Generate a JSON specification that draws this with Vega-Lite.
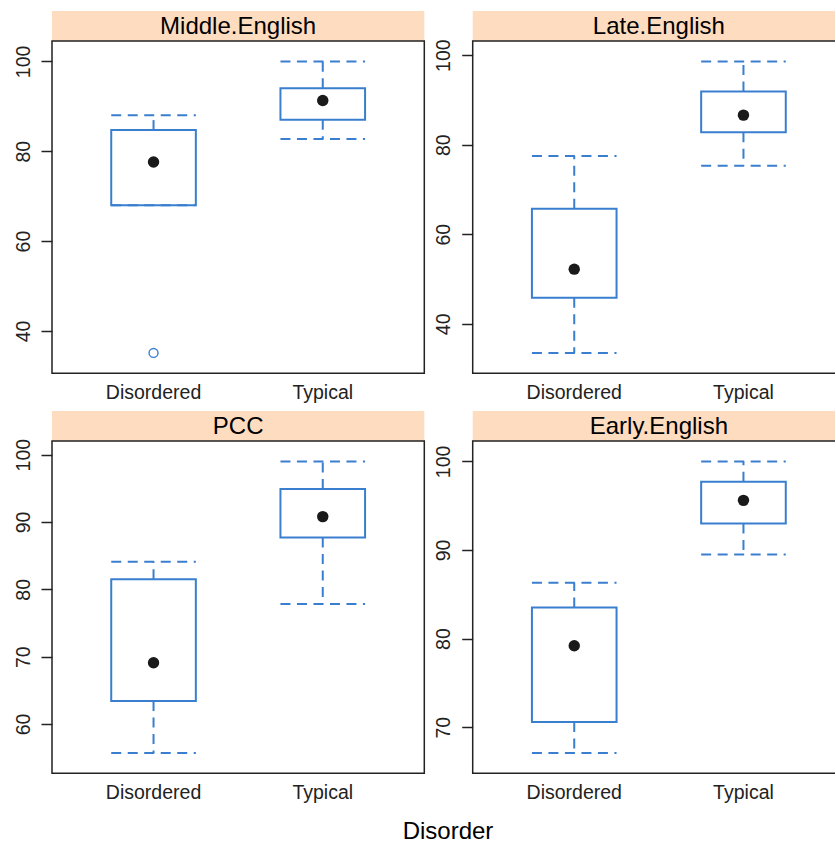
{
  "$schema": "https://vega.github.io/schema/vega-lite/v6.json",
  "background": "white",
  "padding": {"left": 12, "top": 11, "right": -11, "bottom": 2},
  "datasets": {
    "panels": [
      {"panel": "Middle.English"},
      {"panel": "Late.English"},
      {"panel": "PCC"},
      {"panel": "Early.English"}
    ],
    "boxes": [
      {"panel": "Middle.English", "Disorder": "Disordered", "lower": 68, "q1": 68, "median": 77.6, "q3": 84.7, "upper": 88},
      {"panel": "Middle.English", "Disorder": "Typical", "lower": 82.7, "q1": 87, "median": 91.3, "q3": 94, "upper": 100},
      {"panel": "Late.English", "Disorder": "Disordered", "lower": 33.5, "q1": 45.8, "median": 52.2, "q3": 65.7, "upper": 77.5},
      {"panel": "Late.English", "Disorder": "Typical", "lower": 75.3, "q1": 82.8, "median": 86.6, "q3": 91.9, "upper": 98.6},
      {"panel": "PCC", "Disorder": "Disordered", "lower": 55.7, "q1": 63.4, "median": 69.1, "q3": 81.5, "upper": 84.1},
      {"panel": "PCC", "Disorder": "Typical", "lower": 77.8, "q1": 87.7, "median": 90.8, "q3": 94.9, "upper": 99},
      {"panel": "Early.English", "Disorder": "Disordered", "lower": 67.1, "q1": 70.6, "median": 79.2, "q3": 83.5, "upper": 86.3},
      {"panel": "Early.English", "Disorder": "Typical", "lower": 89.5, "q1": 93, "median": 95.6, "q3": 97.7, "upper": 100}
    ],
    "outliers": [
      {"panel": "Middle.English", "Disorder": "Disordered", "value": 35.1}
    ]
  },
  "title": {
    "text": "Disorder",
    "orient": "bottom",
    "anchor": "middle",
    "font": "Liberation Sans",
    "fontSize": 24,
    "fontWeight": "normal",
    "color": "#000000",
    "offset": 17,
    "dx": 19
  },
  "spacing": 8,
  "vconcat": [
    {
      "spacing": 6.7,
      "hconcat": [
        {
          "bounds": "flush",
          "spacing": 0,
          "vconcat": [
            {
              "width": 372.3, "height": 30,
              "data": {"name": "panels"},
              "transform": [{"filter": "datum.panel === 'Middle.English'"}],
              "view": {"fill": "#fedcc0"},
              "mark": {"type": "text", "font": "Liberation Sans", "fontSize": 24, "color": "#000000", "baseline": "middle", "dy": 1},
              "encoding": {"text": {"field": "panel", "type": "nominal"}}
            },
            {
              "width": 372.3, "height": 332.3,
              "data": {"name": "boxes"},
              "transform": [{"filter": "datum.panel === 'Middle.English'"}],
              "encoding": {
                "x": {"field": "Disorder", "type": "nominal", "sort": ["Disordered", "Typical"], "title": null,
                      "scale": {"type": "band", "paddingInner": 0.5, "paddingOuter": 0.35}}
              },
              "layer": [
                {"mark": {"type": "rule", "color": "#3a7fcf", "strokeWidth": 2, "strokeDash": [10, 6.5]},
                 "encoding": {"y": {"field": "q3", "type": "quantitative", "title": null,
                                    "scale": {"domain": [30.56, 104.54], "nice": false, "zero": false},
                                    "axis": {"values": [40, 60, 80, 100]}},
                              "y2": {"field": "upper"}}},
                {"mark": {"type": "rule", "color": "#3a7fcf", "strokeWidth": 2, "strokeDash": [10, 6.5]},
                 "encoding": {"y": {"field": "q1", "type": "quantitative", "title": null}, "y2": {"field": "lower"}}},
                {"mark": {"type": "rule", "color": "#3a7fcf", "strokeWidth": 2, "strokeDash": [10, 6.5]},
                 "encoding": {"x": {"field": "Disorder", "type": "nominal", "bandPosition": 0},
                              "x2": {"field": "Disorder", "bandPosition": 1},
                              "y": {"field": "upper", "type": "quantitative", "title": null}}},
                {"mark": {"type": "rule", "color": "#3a7fcf", "strokeWidth": 2, "strokeDash": [10, 6.5]},
                 "encoding": {"x": {"field": "Disorder", "type": "nominal", "bandPosition": 0},
                              "x2": {"field": "Disorder", "bandPosition": 1},
                              "y": {"field": "lower", "type": "quantitative", "title": null}}},
                {"mark": {"type": "bar", "fill": "white", "fillOpacity": 0, "stroke": "#3a7fcf", "strokeWidth": 2},
                 "encoding": {"y": {"field": "q1", "type": "quantitative", "title": null}, "y2": {"field": "q3"}}},
                {"mark": {"type": "point", "filled": true, "color": "#1a1a1a", "size": 130, "opacity": 1},
                 "encoding": {"y": {"field": "median", "type": "quantitative", "title": null}}},
                {"data": {"name": "outliers"},
                 "transform": [{"filter": "datum.panel === 'Middle.English'"}],
                 "mark": {"type": "point", "filled": false, "color": "#3a7fcf", "size": 80, "strokeWidth": 1.4, "opacity": 1},
                 "encoding": {"y": {"field": "value", "type": "quantitative", "title": null}}}
              ]
            }
          ]
        },
        {
          "bounds": "flush",
          "spacing": 0,
          "vconcat": [
            {
              "width": 372.3, "height": 30,
              "data": {"name": "panels"},
              "transform": [{"filter": "datum.panel === 'Late.English'"}],
              "view": {"fill": "#fedcc0"},
              "mark": {"type": "text", "font": "Liberation Sans", "fontSize": 24, "color": "#000000", "baseline": "middle", "dy": 1},
              "encoding": {"text": {"field": "panel", "type": "nominal"}}
            },
            {
              "width": 372.3, "height": 332.3,
              "data": {"name": "boxes"},
              "transform": [{"filter": "datum.panel === 'Late.English'"}],
              "encoding": {
                "x": {"field": "Disorder", "type": "nominal", "sort": ["Disordered", "Typical"], "title": null,
                      "scale": {"type": "band", "paddingInner": 0.5, "paddingOuter": 0.35}}
              },
              "layer": [
                {"mark": {"type": "rule", "color": "#3a7fcf", "strokeWidth": 2, "strokeDash": [10, 6.5]},
                 "encoding": {"y": {"field": "q3", "type": "quantitative", "title": null,
                                    "scale": {"domain": [28.94, 103.16], "nice": false, "zero": false},
                                    "axis": {"values": [40, 60, 80, 100]}},
                              "y2": {"field": "upper"}}},
                {"mark": {"type": "rule", "color": "#3a7fcf", "strokeWidth": 2, "strokeDash": [10, 6.5]},
                 "encoding": {"y": {"field": "q1", "type": "quantitative", "title": null}, "y2": {"field": "lower"}}},
                {"mark": {"type": "rule", "color": "#3a7fcf", "strokeWidth": 2, "strokeDash": [10, 6.5]},
                 "encoding": {"x": {"field": "Disorder", "type": "nominal", "bandPosition": 0},
                              "x2": {"field": "Disorder", "bandPosition": 1},
                              "y": {"field": "upper", "type": "quantitative", "title": null}}},
                {"mark": {"type": "rule", "color": "#3a7fcf", "strokeWidth": 2, "strokeDash": [10, 6.5]},
                 "encoding": {"x": {"field": "Disorder", "type": "nominal", "bandPosition": 0},
                              "x2": {"field": "Disorder", "bandPosition": 1},
                              "y": {"field": "lower", "type": "quantitative", "title": null}}},
                {"mark": {"type": "bar", "fill": "white", "fillOpacity": 0, "stroke": "#3a7fcf", "strokeWidth": 2},
                 "encoding": {"y": {"field": "q1", "type": "quantitative", "title": null}, "y2": {"field": "q3"}}},
                {"mark": {"type": "point", "filled": true, "color": "#1a1a1a", "size": 130, "opacity": 1},
                 "encoding": {"y": {"field": "median", "type": "quantitative", "title": null}}}
              ]
            }
          ]
        }
      ]
    },
    {
      "spacing": 6.7,
      "hconcat": [
        {
          "bounds": "flush",
          "spacing": 0,
          "vconcat": [
            {
              "width": 372.3, "height": 30,
              "data": {"name": "panels"},
              "transform": [{"filter": "datum.panel === 'PCC'"}],
              "view": {"fill": "#fedcc0"},
              "mark": {"type": "text", "font": "Liberation Sans", "fontSize": 24, "color": "#000000", "baseline": "middle", "dy": 1},
              "encoding": {"text": {"field": "panel", "type": "nominal"}}
            },
            {
              "width": 372.3, "height": 332.3,
              "data": {"name": "boxes"},
              "transform": [{"filter": "datum.panel === 'PCC'"}],
              "encoding": {
                "x": {"field": "Disorder", "type": "nominal", "sort": ["Disordered", "Typical"], "title": null,
                      "scale": {"type": "band", "paddingInner": 0.5, "paddingOuter": 0.35}}
              },
              "layer": [
                {"mark": {"type": "rule", "color": "#3a7fcf", "strokeWidth": 2, "strokeDash": [10, 6.5]},
                 "encoding": {"y": {"field": "q3", "type": "quantitative", "title": null,
                                    "scale": {"domain": [52.67, 102.03], "nice": false, "zero": false},
                                    "axis": {"values": [60, 70, 80, 90, 100]}},
                              "y2": {"field": "upper"}}},
                {"mark": {"type": "rule", "color": "#3a7fcf", "strokeWidth": 2, "strokeDash": [10, 6.5]},
                 "encoding": {"y": {"field": "q1", "type": "quantitative", "title": null}, "y2": {"field": "lower"}}},
                {"mark": {"type": "rule", "color": "#3a7fcf", "strokeWidth": 2, "strokeDash": [10, 6.5]},
                 "encoding": {"x": {"field": "Disorder", "type": "nominal", "bandPosition": 0},
                              "x2": {"field": "Disorder", "bandPosition": 1},
                              "y": {"field": "upper", "type": "quantitative", "title": null}}},
                {"mark": {"type": "rule", "color": "#3a7fcf", "strokeWidth": 2, "strokeDash": [10, 6.5]},
                 "encoding": {"x": {"field": "Disorder", "type": "nominal", "bandPosition": 0},
                              "x2": {"field": "Disorder", "bandPosition": 1},
                              "y": {"field": "lower", "type": "quantitative", "title": null}}},
                {"mark": {"type": "bar", "fill": "white", "fillOpacity": 0, "stroke": "#3a7fcf", "strokeWidth": 2},
                 "encoding": {"y": {"field": "q1", "type": "quantitative", "title": null}, "y2": {"field": "q3"}}},
                {"mark": {"type": "point", "filled": true, "color": "#1a1a1a", "size": 130, "opacity": 1},
                 "encoding": {"y": {"field": "median", "type": "quantitative", "title": null}}}
              ]
            }
          ]
        },
        {
          "bounds": "flush",
          "spacing": 0,
          "vconcat": [
            {
              "width": 372.3, "height": 30,
              "data": {"name": "panels"},
              "transform": [{"filter": "datum.panel === 'Early.English'"}],
              "view": {"fill": "#fedcc0"},
              "mark": {"type": "text", "font": "Liberation Sans", "fontSize": 24, "color": "#000000", "baseline": "middle", "dy": 1},
              "encoding": {"text": {"field": "panel", "type": "nominal"}}
            },
            {
              "width": 372.3, "height": 332.3,
              "data": {"name": "boxes"},
              "transform": [{"filter": "datum.panel === 'Early.English'"}],
              "encoding": {
                "x": {"field": "Disorder", "type": "nominal", "sort": ["Disordered", "Typical"], "title": null,
                      "scale": {"type": "band", "paddingInner": 0.5, "paddingOuter": 0.35}}
              },
              "layer": [
                {"mark": {"type": "rule", "color": "#3a7fcf", "strokeWidth": 2, "strokeDash": [10, 6.5]},
                 "encoding": {"y": {"field": "q3", "type": "quantitative", "title": null,
                                    "scale": {"domain": [64.8, 102.3], "nice": false, "zero": false},
                                    "axis": {"values": [70, 80, 90, 100]}},
                              "y2": {"field": "upper"}}},
                {"mark": {"type": "rule", "color": "#3a7fcf", "strokeWidth": 2, "strokeDash": [10, 6.5]},
                 "encoding": {"y": {"field": "q1", "type": "quantitative", "title": null}, "y2": {"field": "lower"}}},
                {"mark": {"type": "rule", "color": "#3a7fcf", "strokeWidth": 2, "strokeDash": [10, 6.5]},
                 "encoding": {"x": {"field": "Disorder", "type": "nominal", "bandPosition": 0},
                              "x2": {"field": "Disorder", "bandPosition": 1},
                              "y": {"field": "upper", "type": "quantitative", "title": null}}},
                {"mark": {"type": "rule", "color": "#3a7fcf", "strokeWidth": 2, "strokeDash": [10, 6.5]},
                 "encoding": {"x": {"field": "Disorder", "type": "nominal", "bandPosition": 0},
                              "x2": {"field": "Disorder", "bandPosition": 1},
                              "y": {"field": "lower", "type": "quantitative", "title": null}}},
                {"mark": {"type": "bar", "fill": "white", "fillOpacity": 0, "stroke": "#3a7fcf", "strokeWidth": 2},
                 "encoding": {"y": {"field": "q1", "type": "quantitative", "title": null}, "y2": {"field": "q3"}}},
                {"mark": {"type": "point", "filled": true, "color": "#1a1a1a", "size": 130, "opacity": 1},
                 "encoding": {"y": {"field": "median", "type": "quantitative", "title": null}}}
              ]
            }
          ]
        }
      ]
    }
  ],
  "config": {
    "font": "Liberation Sans",
    "view": {"stroke": "#222222", "strokeWidth": 1.5},
    "axisX": {
      "labelAngle": 0,
      "ticks": false,
      "domain": false,
      "grid": false,
      "labelPadding": 10,
      "labelFont": "Liberation Sans",
      "labelFontSize": 19.5,
      "labelColor": "#222222"
    },
    "axisY": {
      "grid": false,
      "domain": false,
      "tickSize": 11,
      "tickWidth": 1.5,
      "tickColor": "#222222",
      "labelAngle": 270,
      "labelAlign": "center",
      "labelBaseline": "alphabetic",
      "labelPadding": 12,
      "labelFont": "Liberation Sans",
      "labelFontSize": 19.5,
      "labelColor": "#222222",
      "labelFlush": false,
      "labelOverlap": false
    }
  }
}
